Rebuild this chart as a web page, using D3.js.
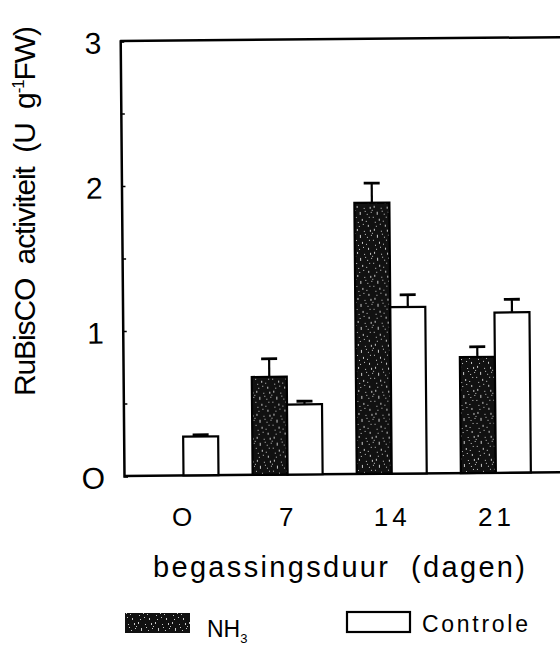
<!DOCTYPE html>
<html>
<head>
<meta charset="utf-8">
<script src="https://cdn.jsdelivr.net/npm/d3@7"></script>
<style>
  html, body { margin: 0; padding: 0; background: #fff; }
  svg { display: block; }
  text { font-family: "Liberation Sans", Arial, Helvetica, sans-serif; fill: #000; white-space: pre; }
</style>
</head>
<body>
<svg id="chart" width="560" height="645"></svg>
<script>
// Fumigation duration (days)
const days = [0, 7, 14, 21];
const dayLabels = ["0", "7", "14", "21"];

// RuBisCO activity (U g-1 FW), NH3-fumigated plants
const nh3Values = [null, 0.675, 1.87, 0.80];
const nh3Errors = [null, 0.125, 0.135, 0.07];

// RuBisCO activity (U g-1 FW), control plants
const controlValues = [0.268, 0.483, 1.148, 1.105];
const controlErrors = [0.012, 0.022, 0.085, 0.09];

// Y axis ticks
const yTicks = [0, 0.5, 1, 1.5, 2, 2.5, 3];
const yTickLabels = {0: "O", 1: "1", 2: "2", 3: "3"};

const seriesNames = ["NH", "Controle"];

const svg = d3.select("#chart");

// Speckled dark fill for the NH3 bars
const defs = svg.append("defs");
const pat = defs.append("pattern")
  .attr("id", "speckle")
  .attr("patternUnits", "userSpaceOnUse")
  .attr("width", 17).attr("height", 23);
pat.append("rect").attr("width", 17).attr("height", 23).attr("fill", "#111");
[[2,1,1,2],[9,3,1,1],[5,7,1,3],[12,9,1,1],[1,12,1,1],[7,14,1,2],[11,16,1,1],
 [3,17,1,1],[10,6,1,1],[15,2,1,2],[14,12,1,1],[4,21,1,1],[13,20,1,2],[8,19,1,1],
 [16,7,1,1],[0,5,1,1]]
  .forEach(([px, py, w, h]) => pat.append("rect")
    .attr("x", px).attr("y", py).attr("width", w).attr("height", h)
    .attr("fill", "#c8c8c8"));

const plotLeft = 124, plotBottom = 476, plotTop = 41;

const x = d3.scaleLinear().domain([-4, 28]).range([plotLeft, 600]);
const y = d3.scaleLinear().domain([0, 3]).range([plotBottom, plotTop]);
const barW = 35;
const capW = 16;

// Plot body, slightly tilted
const plot = svg.append("g")
  .attr("transform", `rotate(-0.5, ${plotLeft}, ${plotBottom})`);

// Frame: top and bottom lines
plot.append("line")
  .attr("x1", plotLeft).attr("x2", 620).attr("y1", y(3)).attr("y2", y(3))
  .attr("stroke", "#000").attr("stroke-width", 2.5);
plot.append("line")
  .attr("x1", plotLeft).attr("x2", 620).attr("y1", y(0)).attr("y2", y(0))
  .attr("stroke", "#000").attr("stroke-width", 2.5);

const yAxis = d3.axisLeft(y)
  .tickValues(yTicks)
  .tickSize(-4)
  .tickPadding(19)
  .tickFormat(d => yTickLabels[d] !== undefined ? yTickLabels[d] : "");
const gy = plot.append("g").attr("transform", `translate(${plotLeft},0)`).call(yAxis);
gy.select(".domain").attr("stroke", "#000").attr("stroke-width", 2.5);
gy.selectAll(".tick line").attr("stroke", "#000").attr("stroke-width", 1.5);
gy.selectAll(".tick text")
  .style("font-size", "30px")
  .attr("dy", "0.4em");

// Bars
function drawSeries(values, errors, offset, fill) {
  const data = days.map((d, i) => ({d, v: values[i], e: errors[i]})).filter(o => o.v != null);
  const g = plot.append("g");
  g.selectAll("rect").data(data).join("rect")
    .attr("x", o => x(o.d) + offset)
    .attr("y", o => y(o.v))
    .attr("width", barW)
    .attr("height", o => y(0) - y(o.v))
    .attr("fill", fill)
    .attr("stroke", "#000").attr("stroke-width", 2.2);
  g.selectAll("line.err").data(data).join("line")
    .attr("class", "err")
    .attr("x1", o => x(o.d) + offset + barW / 2)
    .attr("x2", o => x(o.d) + offset + barW / 2)
    .attr("y1", o => y(o.v))
    .attr("y2", o => y(o.v + o.e))
    .attr("stroke", "#000").attr("stroke-width", 2.2);
  g.selectAll("line.cap").data(data).join("line")
    .attr("class", "cap")
    .attr("x1", o => x(o.d) + offset + barW / 2 - capW / 2)
    .attr("x2", o => x(o.d) + offset + barW / 2 + capW / 2)
    .attr("y1", o => y(o.v + o.e))
    .attr("y2", o => y(o.v + o.e))
    .attr("stroke", "#000").attr("stroke-width", 2.8);
}
drawSeries(nh3Values, nh3Errors, -barW, "url(#speckle)");
drawSeries(controlValues, controlErrors, 0, "#fff");

// X tick labels
const xAxis = d3.axisBottom(x)
  .tickValues(days)
  .tickSize(0)
  .tickPadding(32)
  .tickFormat((d, i) => dayLabels[i] === "0" ? "O" : dayLabels[i]);
const gx = svg.append("g").attr("transform", `translate(0,${plotBottom})`).call(xAxis);
gx.select(".domain").remove();
gx.selectAll(".tick text")
  .style("font-size", "26px")
  .style("letter-spacing", "4px");

// Axis titles
svg.append("text")
  .attr("x", 153).attr("y", 577)
  .attr("textLength", 372).attr("lengthAdjust", "spacing")
  .style("font-size", "29px")
  .text("begassingsduur  (dagen)");

const yTitle = svg.append("text")
  .attr("transform", "translate(35,396) rotate(-90)")
  .attr("textLength", 370).attr("lengthAdjust", "spacing")
  .style("font-size", "30px");
yTitle.append("tspan").text("RuBisCO  activiteit  (U  g");
yTitle.append("tspan").attr("dy", -11).style("font-size", "17px").text("-1");
yTitle.append("tspan").attr("dy", 11).text("FW)");

// Legend
const legend = svg.append("g");
legend.append("rect")
  .attr("x", 125).attr("y", 613).attr("width", 65).attr("height", 20)
  .attr("fill", "url(#speckle)");
const nhText = legend.append("text")
  .attr("x", 207).attr("y", 637)
  .style("font-size", "23px");
nhText.append("tspan").text(seriesNames[0]);
nhText.append("tspan").attr("dy", 6).style("font-size", "13px").text("3");

legend.append("rect")
  .attr("x", 347).attr("y", 612).attr("width", 63).attr("height", 20)
  .attr("fill", "#fff").attr("stroke", "#000").attr("stroke-width", 2.2);
legend.append("text")
  .attr("x", 422).attr("y", 632)
  .attr("textLength", 106).attr("lengthAdjust", "spacing")
  .style("font-size", "23px")
  .text(seriesNames[1]);
</script>
</body>
</html>
